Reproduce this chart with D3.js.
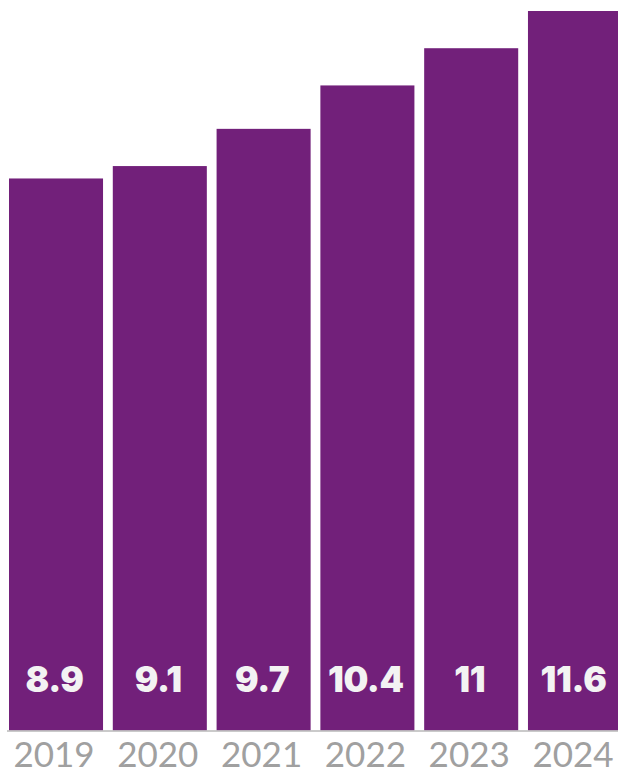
<!DOCTYPE html>
<html>
<head>
<meta charset="utf-8">
<script src="https://cdn.jsdelivr.net/npm/d3@7"></script>
<style>
  html, body { margin: 0; padding: 0; background: #fff; overflow: hidden; }
  svg { display: block; }
</style>
</head>
<body>
<svg id="chart" width="618" height="772"></svg>
<script>
const years = ["2019", "2020", "2021", "2022", "2023", "2024"];
const values = [8.9, 9.1, 9.7, 10.4, 11, 11.6];
const valueLabels = ["8.9", "9.1", "9.7", "10.4", "11", "11.6"];

const svg = d3.select("#chart");
const baseY = 730.5;

const x = d3.scaleBand()
  .domain(years)
  .range([9, 622])
  .paddingInner(0.094)
  .paddingOuter(0);

const y = d3.scaleLinear()
  .domain([0, 11.6])
  .range([baseY, 11]);

svg.selectAll("rect.bar")
  .data(values)
  .join("rect")
  .attr("class", "bar")
  .attr("x", (d, i) => x(years[i]))
  .attr("y", d => y(d))
  .attr("width", x.bandwidth())
  .attr("height", d => baseY - y(d))
  .attr("fill", "#72207a");

svg.append("line")
  .attr("x1", 7).attr("x2", 618)
  .attr("y1", baseY + 0.5).attr("y2", baseY + 0.5)
  .attr("stroke", "#b9b9b9")
  .attr("stroke-width", 1.5);

svg.selectAll("text.val")
  .data(valueLabels)
  .join("text")
  .attr("class", "val")
  .attr("x", (d, i) => x(years[i]) + x.bandwidth() / 2 - 1.5)
  .attr("y", 692)
  .attr("text-anchor", "middle")
  .attr("fill", "#f3f3f3")
  .attr("font-family", "Inter, Lato, sans-serif")
  .attr("font-weight", 900)
  .attr("font-size", 35)
  .attr("letter-spacing", -0.3)
  .text(d => d);

const xAxis = d3.axisBottom(x).tickSize(0).tickPadding(0);
const gx = svg.append("g")
  .attr("transform", `translate(-2, ${baseY})`)
  .call(xAxis);
gx.select(".domain").remove();
gx.selectAll("text")
  .attr("y", 36)
  .attr("dy", 0)
  .attr("fill", "#a0a0a0")
  .attr("font-family", "Lato, 'Open Sans', sans-serif")
  .attr("font-weight", 400)
  .attr("font-size", 35);
</script>
</body>
</html>
